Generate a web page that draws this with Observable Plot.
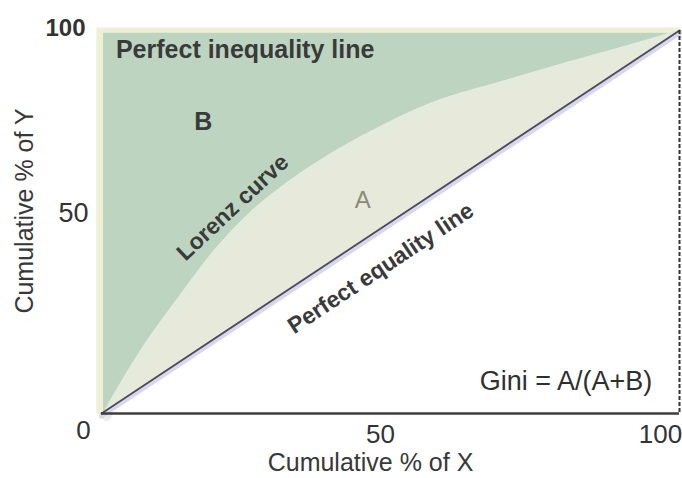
<!DOCTYPE html>
<html>
<head>
<meta charset="utf-8">
<script src="https://cdn.jsdelivr.net/npm/d3@7"></script>
<script src="https://cdn.jsdelivr.net/npm/@observablehq/plot@0.6"></script>
<style>
  html, body { margin: 0; padding: 0; background: #fff; }
  #chart svg { display: block; }
  g[aria-label="lbl-wide"] text { letter-spacing: 1.3px; }
  g[aria-label="lbl-mid"] text { letter-spacing: 0.6px; }
  g[aria-label="lbl-axis"] text { letter-spacing: 0.8px; }
</style>
</head>
<body>
<div id="chart"></div>
<script>
// Lorenz curve (cumulative % of X vs cumulative % of Y)
const lorenzX = [0.35, 1.6, 6.8, 13.0, 19.4, 25.8, 32.2, 38.4, 46.0, 57.4, 69.0, 80.6, 92.0, 100];
const lorenzY = [0, 3.4, 16.4, 29.5, 42.3, 52.5, 60.3, 66.6, 73.1, 81.2, 86.5, 91.6, 96.4, 100];
// Perfect equality line
const equalityX = [0, 100];
const equalityY = [0, 100];
// Tick labels
const xTicks = [0, 50, 100];
const yTicks = [50, 100];
// Annotation texts
const titleInequality = ["Perfect inequality line"];
const titleEquality = ["Perfect equality line"];
const titleLorenz = ["Lorenz curve"];
const labelA = ["A"];
const labelB = ["B"];
const labelGini = ["Gini = A/(A+B)"];
const xLabel = ["Cumulative % of X"];
const yLabel = ["Cumulative % of Y"];

const lorenz = lorenzX.map((x, i) => ({x, y: lorenzY[i]}));
const equality = equalityX.map((x, i) => ({x, y: equalityY[i]}));

const font = "Liberation Sans, Arial, sans-serif";
const dark = "#3a3a3a";

const plot = Plot.plot({
  width: 682,
  height: 478,
  marginTop: 30,
  marginBottom: 65,
  marginLeft: 101,
  marginRight: 3,
  style: {fontFamily: font, background: "#fff"},
  x: {domain: [0, 100]},
  y: {domain: [0, 100]},
  marks: [
    Plot.frame({fill: "#eef0d6", insetLeft: -5, insetTop: -3}),
    // region B (above Lorenz curve)
    Plot.areaY(lorenz, {x: "x", y1: "y", y2: 99.3, fill: "#bdd5c0", curve: "monotone-x"}),
    // region A (between Lorenz curve and equality line)
    Plot.areaY(lorenz, {x: "x", y1: d => d.x, y2: "y", fill: "#e7eada", curve: "monotone-x"}),
    // light band along the Lorenz curve
    Plot.line(lorenz, {x: "x", y: "y", stroke: "#e4eadc", strokeWidth: 9, strokeOpacity: 0.8, curve: "monotone-x", dx: 3, dy: 3}),
    // white below equality line
    Plot.areaY(equality, {x: "x", y1: 0, y2: "y", fill: "#ffffff"}),
    Plot.line(equality, {x: "x", y: "y", stroke: "#d9d7ec", strokeWidth: 5, dy: 2.5}),
    Plot.line(equality, {x: "x", y: "y", stroke: "#4d4960", strokeWidth: 1.8}),
    // frame lines
    Plot.ruleX([100], {stroke: "#333", strokeWidth: 2, strokeDasharray: "4,2"}),
    Plot.ruleY([0], {stroke: "#3d3d3d", strokeWidth: 2.5}),
    // axes
    Plot.axisX([xTicks[0]], {tickSize: 0, tickPadding: 7, dx: -18, fontSize: 26, fill: "#333", label: null}),
    Plot.axisX([xTicks[1]], {tickSize: 0, tickPadding: 11, dx: -10, fontSize: 26, fill: "#333", label: null}),
    Plot.axisX([xTicks[2]], {tickSize: 0, tickPadding: 11, dx: -19, fontSize: 26, fill: "#333", label: null}),
    Plot.axisY([yTicks[0]], {tickSize: 0, tickPadding: 13, dy: -8.5, fontSize: 27, fill: "#333", label: null}),
    Plot.axisY([yTicks[1]], {tickSize: 0, tickPadding: 16, dy: -2, fontSize: 24, fontWeight: "bold", fill: "#333", label: null}),
    Plot.text(xLabel, {text: d => d, frameAnchor: "bottom", textAnchor: "middle", lineAnchor: "middle", dy: 49, dx: -20, fontSize: 25, fill: "#383838", ariaLabel: "lbl-axis"}),
    Plot.text(yLabel, {text: d => d, frameAnchor: "left", textAnchor: "middle", lineAnchor: "middle", rotate: -90, dx: -77, dy: -11, fontSize: 25, fill: "#383838", ariaLabel: "lbl-axis"}),
    // annotations
    Plot.text(titleInequality, {text: d => d, x: 2.5, y: 94.8, textAnchor: "start", fontSize: 25, fontWeight: "bold", fill: dark, ariaLabel: "lbl-wide"}),
    Plot.text(labelB, {text: d => d, x: 17.6, y: 76.0, fontSize: 25, fontWeight: "bold", fill: dark}),
    Plot.text(labelA, {text: d => d, x: 45.2, y: 55.6, fontSize: 24, fill: "#8a8a76"}),
    Plot.text(titleLorenz, {text: d => d, x: 22.7, y: 53.8, rotate: -43, fontSize: 23, fontWeight: "bold", fill: dark, ariaLabel: "lbl-mid"}),
    Plot.text(titleEquality, {text: d => d, x: 48.3, y: 37.9, rotate: -33.5, fontSize: 23, fontWeight: "bold", fill: dark, ariaLabel: "lbl-wide"}),
    Plot.text(labelGini, {text: d => d, x: 95.3, y: 8.4, textAnchor: "end", fontSize: 27, fill: "#2f2f2f", ariaLabel: "lbl-mid"})
  ]
});
document.getElementById("chart").appendChild(plot);
</script>
</body>
</html>
